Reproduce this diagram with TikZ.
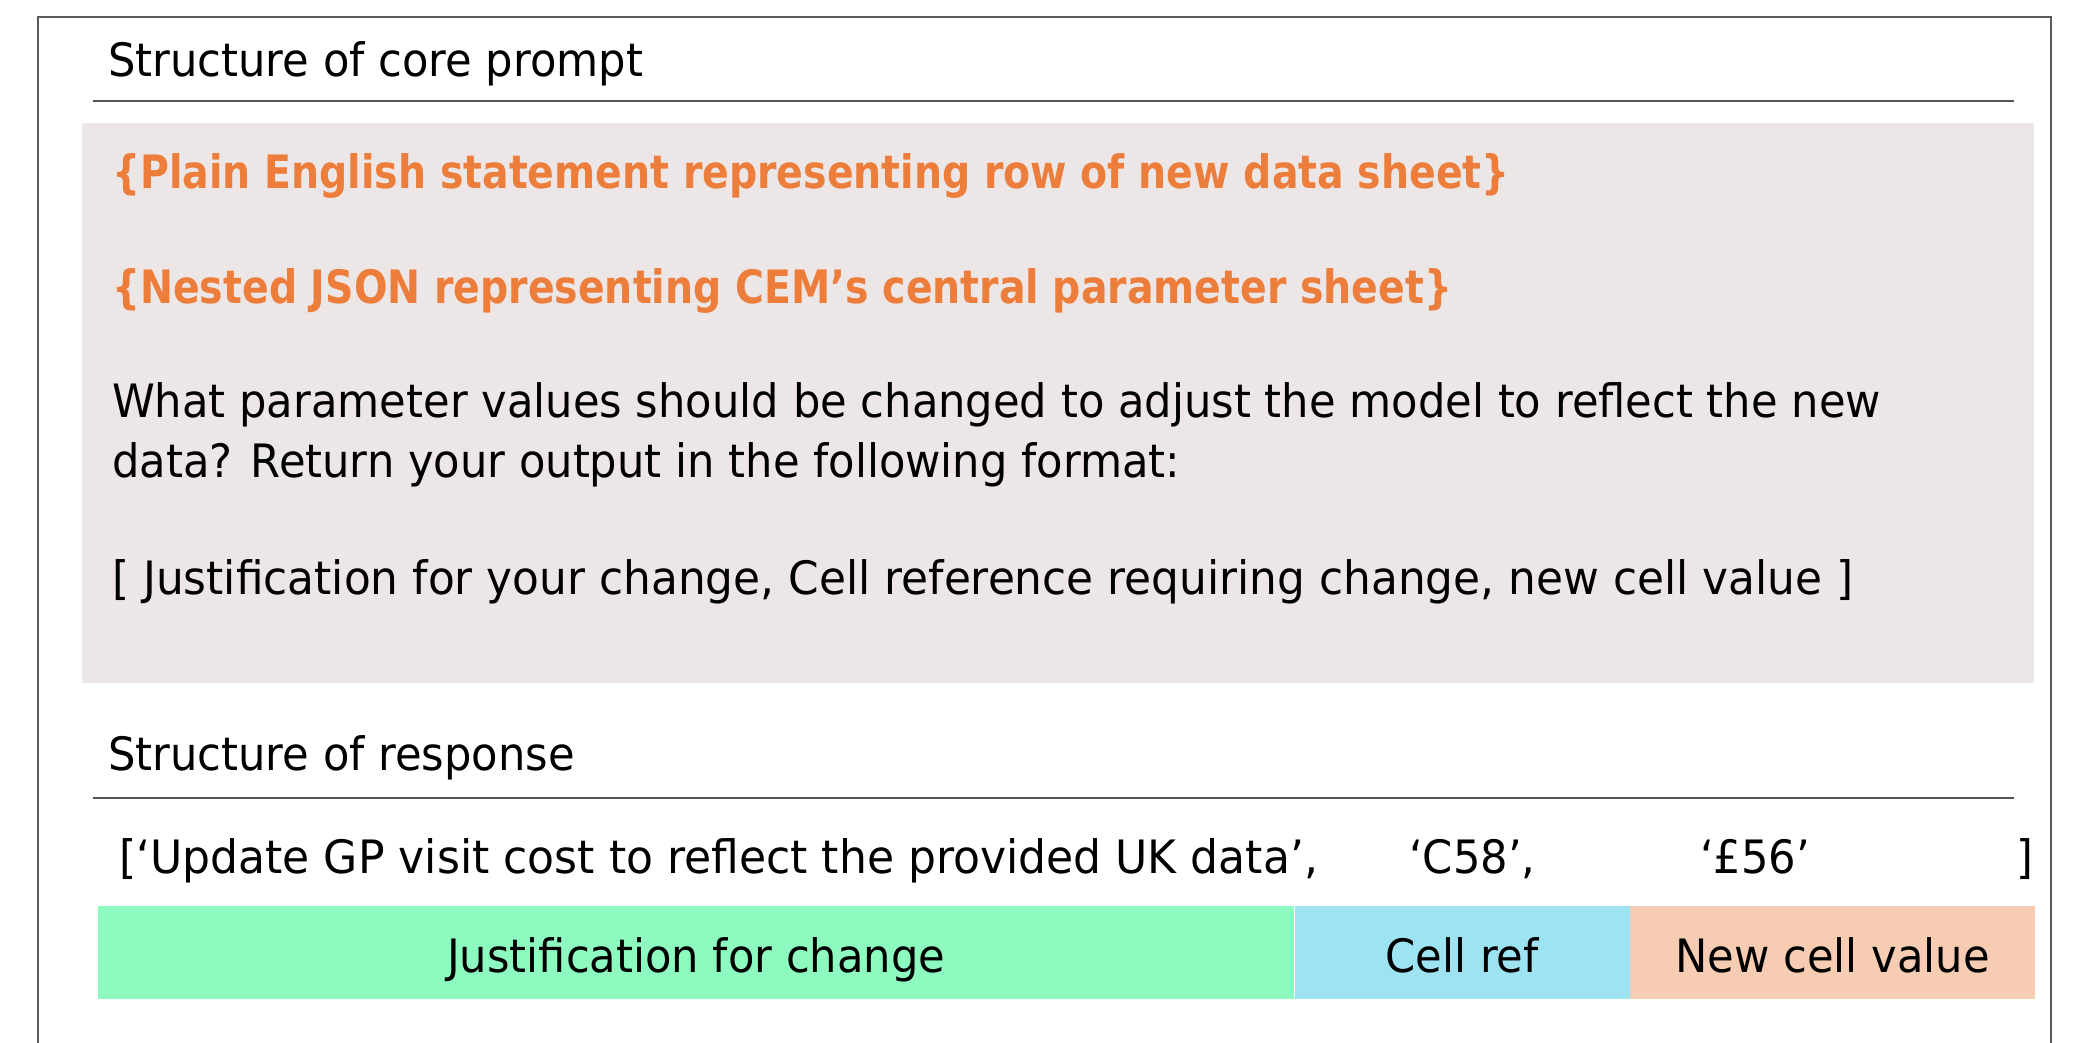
\documentclass[tikz,border=0pt]{standalone}
\usepackage{fontspec}
\setmainfont{DejaVu Sans}[FakeStretch=0.94, BoldFeatures={FakeStretch=0.857}]
\definecolor{framegray}{HTML}{5A5A5A}
\definecolor{rulegray}{HTML}{555555}
\definecolor{promptbg}{HTML}{ECE6E6}
\definecolor{accent}{HTML}{ED7D3A}
\definecolor{justgreen}{HTML}{8DFBBF}
\definecolor{refblue}{HTML}{9DE3F2}
\definecolor{valpeach}{HTML}{F6CCB2}
\tikzset{
  txt/.style={anchor=base west, inner sep=0pt, font=\fontsize{46}{55}\selectfont},
  hot/.style={txt, text=accent, font=\fontsize{46}{55}\selectfont\bfseries},
  seg/.style={inner sep=0pt, text height=40pt, text depth=0pt, minimum height=93pt,
    anchor=north west, font=\fontsize{46}{55}\selectfont},
  sectionrule/.style={draw=rulegray, line width=2.2pt},
}
\begin{document}
\begin{tikzpicture}[x=1pt,y=-1pt]
\useasboundingbox (0,0) rectangle (2075,1042);
\clip (0,0) rectangle (2075,1042);
\fill[white] (0,0) rectangle (2075,1042);
% outer frame
\draw[framegray, line width=2pt] (38,1060) -- (38,17) -- (2051,17) -- (2051,1060);

% core prompt section
\node[txt] (t1) at (108,76) {Structure of core prompt};
\draw[sectionrule] (93,101) -- (2014,101);
\fill[promptbg] (82,123) rectangle (2034,683);
\node[hot] (p1) at (112,188) {\{Plain English statement representing row of new data sheet\}};
\node[hot] (p2) at (112,303) {\{Nested JSON representing CEM’s central parameter sheet\}};
\node[txt] (q1) at (112,417) {What parameter values should be changed to adjust the model to reflect the new};
\node[txt] (q2) at (112,477) {data? Return your output in the following format:};
\node[txt, font=\fontsize{46}{55}\selectfont\addfontfeature{FakeStretch=0.953}] (q3) at (112,594) {[ Justification for your change, Cell reference requiring change, new cell value ]};

% response section
\node[txt] (t2) at (108,770) {Structure of response};
\draw[sectionrule] (93,798) -- (2014,798);
\node[txt, font=\fontsize{46}{55}\selectfont\addfontfeature{FakeStretch=0.958}] (r1) at (119,873) {[‘Update GP visit cost to reflect the provided UK data’,};
\node[txt] (r2) at (1409,873) {‘C58’,};
\node[txt] (r3) at (1700,873) {‘£56’};
\node[txt] (r4) at (2016,873) {]};

% colour-coded parts of the response
\node[seg, fill=justgreen, minimum width=1196pt] (b1) at (98,906) {Justification for change};
\node[seg, fill=refblue, minimum width=335pt] (b2) at (b1.north east) {Cell ref};
\node[seg, fill=valpeach, minimum width=405pt] (b3) at (b2.north east) {New cell value};
\end{tikzpicture}
\end{document}
